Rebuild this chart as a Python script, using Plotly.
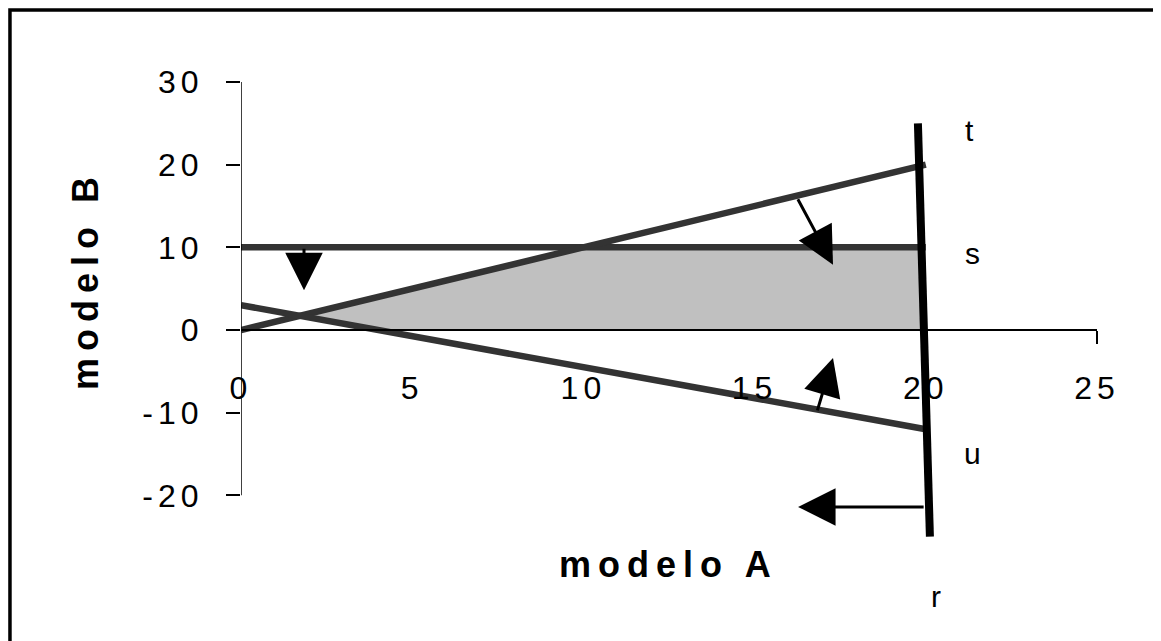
import plotly.graph_objects as go

# ---- data ----
line_s_x = [0, 5, 10, 15, 20]
line_s_y = [10, 10, 10, 10, 10]
line_t_x = [0, 5, 10, 15, 20]
line_t_y = [0, 5, 10, 15, 20]
line_u_x = [0, 5, 10, 15, 20]
line_u_y = [3, -0.75, -4.5, -8.25, -12]
line_r_x = [19.77, 20.12]
line_r_y = [25, -25]
region_x = [1.71, 10, 19.87, 19.95, 4, 1.71]
region_y = [1.71, 10, 10, 0, 0, 1.71]

x_ticks = [0, 5, 10, 15, 20, 25]
y_ticks = [-20, -10, 0, 10, 20, 30]

# arrows: (tail_x, tail_y, tip_x, tip_y)
arrows = [
    (1.84, 10.0, 1.84, 4.8),
    (16.24, 16.0, 17.29, 7.9),
    (16.82, -9.9, 17.29, -3.4),
    (19.98, -21.4, 16.27, -21.4),
]
line_labels = ["t", "s", "u"]
label_x = [21.29, 21.35, 21.35]
label_y = [24.1, 9.2, -14.9]
r_label_x = 20.3

FONT = "Liberation Sans, Arial, sans-serif"
GRAY = "#333333"

def spaced(t, px):
    return '<span style="letter-spacing:%dpx">%s</span>' % (px, t)

fig = go.Figure()
fig.add_trace(go.Scatter(x=region_x, y=region_y, mode="lines", fill="toself",
                         fillcolor="#c0c0c0", line=dict(width=0), hoverinfo="skip",
                         showlegend=False))
for xs, ys in [(line_s_x, line_s_y), (line_t_x, line_t_y), (line_u_x, line_u_y)]:
    fig.add_trace(go.Scatter(x=xs, y=ys, mode="lines", line=dict(color=GRAY, width=6.5),
                             hoverinfo="skip", showlegend=False))
fig.add_trace(go.Scatter(x=line_r_x, y=line_r_y, mode="lines", line=dict(color="black", width=8),
                         hoverinfo="skip", showlegend=False))

annotations = []
for tx, ty, hx, hy in arrows:
    annotations.append(dict(x=hx, y=hy, ax=tx, ay=ty, xref="x", yref="y", axref="x", ayref="y",
                            text="", showarrow=True, arrowhead=2, arrowsize=2.5, arrowwidth=3,
                            arrowcolor="black", standoff=0, startstandoff=0))
for lab, lx, ly in zip(line_labels, label_x, label_y):
    annotations.append(dict(x=lx, y=ly, xref="x", yref="y", text=lab, showarrow=False,
                            xanchor="center", yanchor="middle",
                            font=dict(family=FONT, size=30, color="black")))
annotations.append(dict(x=r_label_x, y=-0.0383, xref="x", yref="paper", text="r", showarrow=False,
                        xanchor="center", yanchor="middle",
                        font=dict(family=FONT, size=30, color="black")))
annotations.append(dict(x=0.499, y=0.028, xref="paper", yref="paper",
                        xanchor="center", yanchor="middle",
                        text="<b>" + spaced("modelo A", 7) + "</b>", showarrow=False,
                        font=dict(family=FONT, size=36, color="black")))
annotations.append(dict(x=-0.181, y=0.601, xref="paper", yref="paper", textangle=-90,
                        xanchor="center", yanchor="middle",
                        text="<b>" + spaced("modelo B", 7) + "</b>", showarrow=False,
                        font=dict(family=FONT, size=36, color="black")))

shapes = [
    dict(type="line", xref="x", yref="y", x0=0, x1=0, y0=-20, y1=30,
         line=dict(color="black", width=1.5)),
    dict(type="rect", xref="paper", yref="paper", x0=-0.2699, x1=1.3, y0=-0.3, y1=1.1452,
         line=dict(color="black", width=3.5)),
    dict(type="line", xref="paper", yref="paper", x0=1.0736, x1=1.0736, y0=-0.3, y1=1.1452,
         line=dict(color="#aaaaaa", width=1)),
]

fig.update_layout(
    width=1153, height=633, autosize=False,
    margin=dict(l=233, r=64, t=74, b=63, pad=0),
    paper_bgcolor="white", plot_bgcolor="white",
    xaxis=dict(range=[0, 25], showgrid=False, zeroline=False, showline=True,
               linecolor="black", linewidth=1.5, anchor="free", position=0.5,
               tickmode="array", tickvals=x_ticks, ticktext=[spaced(str(v), 5) for v in x_ticks],
               ticks="", ticklabelstandoff=30,
               minor=dict(tickmode="array", tickvals=[25], ticks="outside", ticklen=13,
                          tickwidth=1.5, tickcolor="black"),
               tickfont=dict(family=FONT, size=32, color="black")),
    yaxis=dict(range=[-30, 30], showgrid=False, zeroline=False, showline=False,
               tickmode="array", tickvals=y_ticks, ticktext=[spaced(str(v), 5) for v in y_ticks],
               ticks="outside", ticklen=14, tickwidth=1.5, tickcolor="black",
               ticklabelstandoff=16,
               tickfont=dict(family=FONT, size=32, color="black")),
    annotations=annotations, shapes=shapes, showlegend=False,
)

fig.write_html("out.html")
